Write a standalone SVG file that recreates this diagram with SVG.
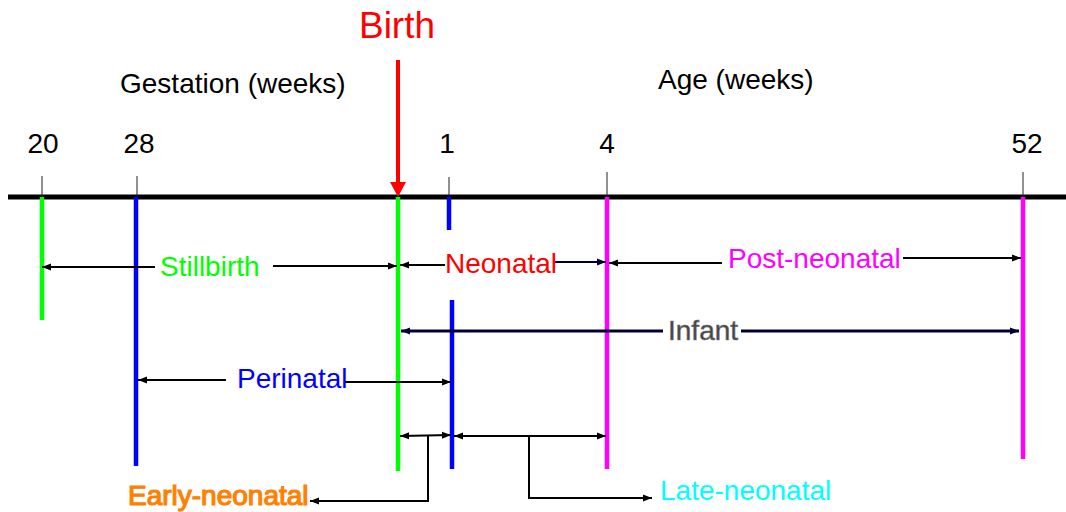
<svg xmlns="http://www.w3.org/2000/svg" width="1066" height="512" viewBox="0 0 1066 512">
<style>
text{font-family:"Liberation Sans",Arial,sans-serif;font-size:28px}
.tick{stroke:#222;stroke-width:1}
.bar{stroke-width:4.5;fill:none}
.c{stroke:#000;stroke-width:2;fill:none}
.nv{stroke:#000033;stroke-width:2;fill:none}
</style>
<defs>
<marker id="ah" markerUnits="userSpaceOnUse" markerWidth="10" markerHeight="10" refX="9" refY="5" orient="auto-start-reverse">
<path d="M0,1.5 L9,5 L0,8.5 Z" fill="#000"/>
</marker>
<marker id="ahn" markerUnits="userSpaceOnUse" markerWidth="10" markerHeight="10" refX="9" refY="5" orient="auto-start-reverse">
<path d="M0,1.5 L9,5 L0,8.5 Z" fill="#000033"/>
</marker>
</defs>
<g id="axis">
<line x1="8" y1="197" x2="1066" y2="197" stroke="#000" stroke-width="5"/>
<line class="tick" x1="42" y1="176" x2="42" y2="197"/>
<line class="tick" x1="137" y1="176" x2="137" y2="197"/>
<line class="tick" x1="449" y1="177" x2="449" y2="197"/>
<line class="tick" x1="607" y1="172" x2="607" y2="197"/>
<line class="tick" x1="1023" y1="172" x2="1023" y2="197"/>
</g>
<g id="labels">
<text x="397" y="38" text-anchor="middle" fill="#FF0000" style="font-size:37px">Birth</text>
<text x="120" y="93" fill="#000">Gestation (weeks)</text>
<text x="658" y="89" fill="#000">Age (weeks)</text>
<text x="43" y="153" text-anchor="middle">20</text>
<text x="139" y="153" text-anchor="middle">28</text>
<text x="447" y="153" text-anchor="middle">1</text>
<text x="607" y="153" text-anchor="middle">4</text>
<text x="1027" y="153" text-anchor="middle">52</text>
</g>
<g id="bars">
<line class="bar" stroke="#00FF00" x1="42" y1="197" x2="42" y2="320"/>
<line class="bar" stroke="#0000FF" x1="136" y1="197" x2="136" y2="466"/>
<line class="bar" stroke="#00FF00" x1="398" y1="197" x2="398" y2="471"/>
<line class="bar" stroke="#0000FF" x1="449" y1="197" x2="449" y2="230"/>
<line class="bar" stroke="#0000FF" x1="452" y1="300" x2="452" y2="469"/>
<line class="bar" stroke="#FF00FF" x1="607" y1="197" x2="607" y2="469"/>
<line class="bar" stroke="#FF00FF" x1="1023" y1="197" x2="1023" y2="459"/>
</g>
<g id="birth-arrow">
<line x1="398" y1="60" x2="398" y2="183" stroke="#FF0000" stroke-width="4"/>
<polygon points="390,182 406,182 398,197" fill="#FF0000"/>
</g>
<g id="connectors">
<line class="c" x1="155" y1="267" x2="42" y2="267" marker-end="url(#ah)"/>
<line class="c" x1="273" y1="266" x2="397" y2="266" marker-end="url(#ah)"/>
<line class="c" x1="445" y1="265" x2="400" y2="265" marker-end="url(#ah)"/>
<line class="nv" x1="553" y1="262" x2="606" y2="262" marker-end="url(#ahn)"/>
<line class="c" x1="722" y1="263" x2="609" y2="263" marker-end="url(#ah)"/>
<line class="c" x1="903" y1="258" x2="1021" y2="258" marker-end="url(#ah)"/>
<line x1="663" y1="331" x2="401" y2="331" stroke="#000033" stroke-width="3" marker-end="url(#ahn)"/>
<line x1="741" y1="331" x2="1019" y2="331" stroke="#000033" stroke-width="3" marker-end="url(#ahn)"/>
<line class="c" x1="226" y1="380" x2="138" y2="380" marker-end="url(#ah)"/>
<line class="c" x1="345" y1="382" x2="451" y2="382" marker-end="url(#ah)"/>
<line class="c" x1="400" y1="436" x2="451" y2="435" marker-start="url(#ah)" marker-end="url(#ah)"/>
<polyline class="c" points="428,436 428,501 310,501" marker-end="url(#ah)"/>
<line class="c" x1="454" y1="436" x2="606" y2="436" marker-start="url(#ah)" marker-end="url(#ah)"/>
<polyline class="c" points="529,436 529,498 652,498" marker-end="url(#ah)"/>
</g>
<g id="stillbirth"><text x="160" y="276" fill="#00FF00">Stillbirth</text></g>
<g id="neonatal"><text x="445" y="273" fill="#FF0000">Neonatal</text></g>
<g id="post-neonatal"><text x="728" y="268" fill="#FF00FF">Post-neonatal</text></g>
<g id="infant"><text x="668" y="340" fill="#444" stroke="#777" stroke-width="0.6">Infant</text></g>
<g id="perinatal"><text x="237" y="388" fill="#0000FF">Perinatal</text></g>
<g id="early-neonatal"><text x="128" y="505" fill="#FF8000" stroke="#FF8000" stroke-width="1.2">Early-neonatal</text></g>
<g id="late-neonatal"><text x="660" y="500" fill="#00FFFF">Late-neonatal</text></g>
</svg>
